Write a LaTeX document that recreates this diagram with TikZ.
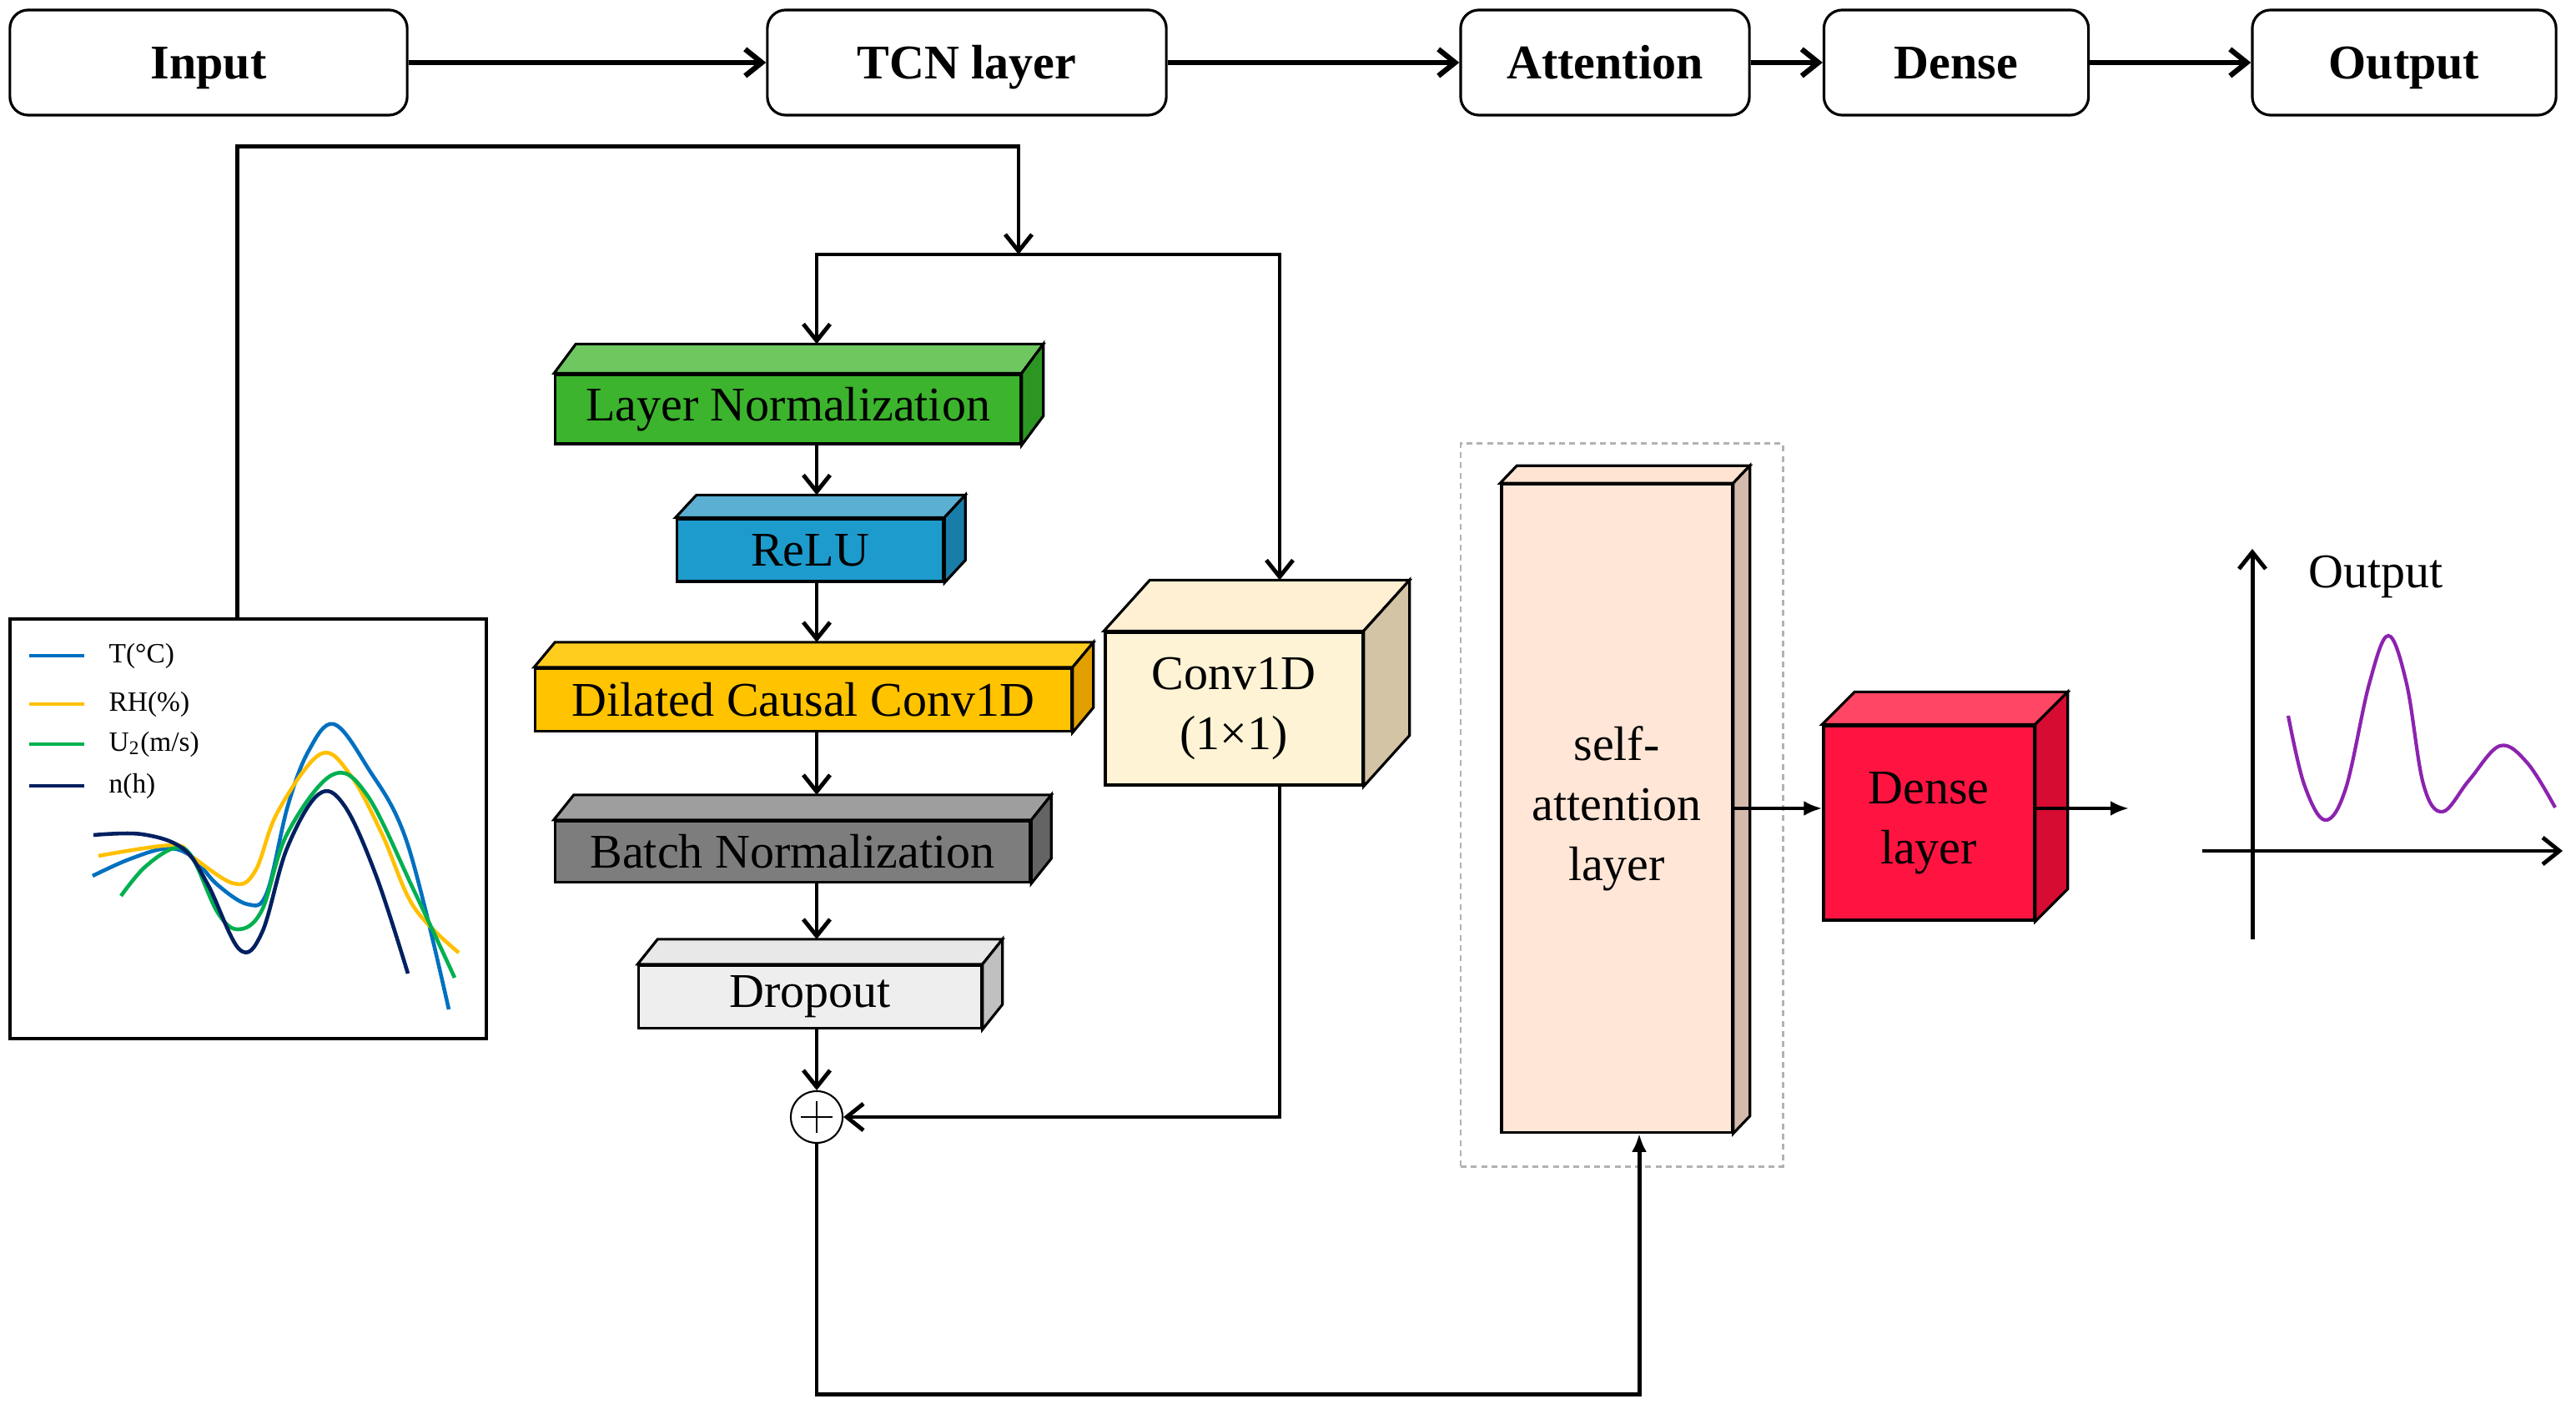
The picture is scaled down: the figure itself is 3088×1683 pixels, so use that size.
\documentclass[tikz,border=0pt]{standalone}
\usepackage{fontspec}
\setmainfont{Liberation Serif}
\usetikzlibrary{arrows.meta}

\definecolor{lnFront}{RGB}{60,180,45}
\definecolor{lnTop}{RGB}{110,200,95}
\definecolor{lnSide}{RGB}{45,150,35}
\definecolor{reluFront}{RGB}{30,155,205}
\definecolor{reluTop}{RGB}{90,175,210}
\definecolor{reluSide}{RGB}{25,125,170}
\definecolor{dilFront}{RGB}{255,195,0}
\definecolor{dilTop}{RGB}{255,205,30}
\definecolor{dilSide}{RGB}{225,160,0}
\definecolor{bnFront}{RGB}{125,125,125}
\definecolor{bnTop}{RGB}{158,158,158}
\definecolor{bnSide}{RGB}{100,100,100}
\definecolor{dropFront}{RGB}{238,238,238}
\definecolor{dropTop}{RGB}{232,232,232}
\definecolor{dropSide}{RGB}{192,192,192}
\definecolor{convFront}{RGB}{255,243,213}
\definecolor{convTop}{RGB}{255,240,212}
\definecolor{convSide}{RGB}{212,196,166}
\definecolor{saFront}{RGB}{255,230,215}
\definecolor{saTop}{RGB}{255,228,210}
\definecolor{saSide}{RGB}{212,186,172}
\definecolor{denseFront}{RGB}{255,20,65}
\definecolor{denseTop}{RGB}{255,70,100}
\definecolor{denseSide}{RGB}{215,12,50}
\definecolor{tempBlue}{RGB}{0,112,192}
\definecolor{rhYellow}{RGB}{255,192,0}
\definecolor{windGreen}{RGB}{0,176,80}
\definecolor{sunNavy}{RGB}{0,32,96}
\definecolor{outPurple}{RGB}{140,35,175}

% front face as a node, top and side faces drawn from its anchors
\newcommand{\slab}[8]{%
  \node[slabface, fill=#7Front, minimum width=#3, minimum height=#4] (#1) at #2 {#8};
  \draw[slabedge, fill=#7Top] (#1.north west) -- ++(#5,-#6) -- ([shift={(#5,-#6)}]#1.north east) -- (#1.north east) -- cycle;
  \draw[slabedge, fill=#7Side] (#1.north east) -- ([shift={(#5,-#6)}]#1.north east) -- ([shift={(#5,-#6)}]#1.south east) -- (#1.south east) -- cycle;
  \coordinate (#1-back) at ([shift={(#5,-#6)}]#1.north);
}

\begin{document}
\begin{tikzpicture}[x=0.01cm, y=-0.01cm,
  topbox/.style={draw, line width=0.9pt, rounded corners=2.2mm, minimum height=12.6mm, inner sep=0pt, text height=11pt, text depth=0pt, font=\fontsize{16.5}{20}\selectfont\bfseries},
  slabface/.style={draw, line width=0.9pt, inner sep=0pt, align=center, font=\fontsize{16.5}{20.5}\selectfont},
  slabedge/.style={line width=0.9pt},
  flow/.style={line width=1.8pt, ->},
  link/.style={line width=1.4pt, ->},
  fine/.style={line width=1.2pt, -{Latex[length=2.2mm,width=1.8mm]}},
  dashbox/.style={draw=gray!60, dash pattern=on 2pt off 1.5pt, line width=0.8pt},
  legend/.style={font=\fontsize{9.5}{11}\selectfont, inner sep=0pt},
  >={Straight Barb[length=2mm,width=3.2mm]}]
  \useasboundingbox (0,0) rectangle (3088,1683);

  % top row
  \node[topbox, minimum width=47.6mm] (input) at (250,75) {Input};
  \node[topbox, minimum width=47.8mm] (tcn) at (1159,75) {TCN layer};
  \node[topbox, minimum width=34.6mm] (attn) at (1924,75) {Attention};
  \node[topbox, minimum width=31.7mm] (dns) at (2345,75) {Dense};
  \node[topbox, minimum width=36.4mm] (outp) at (2882,75) {Output};
  \draw[flow] (input) -- (tcn);
  \draw[flow] (tcn) -- (attn);
  \draw[flow] (attn) -- (dns);
  \draw[flow] (dns) -- (outp);

  % input chart
  \node[draw, line width=1pt, minimum width=57.1mm, minimum height=50.3mm] (inchart) at (297.5,993.5) {};
  \foreach \y/\col/\lab [count=\i] in {786/tempBlue/{T(°C)}, 844/rhYellow/{RH(\%)}, 892/windGreen/{U\textsubscript{2}(m/s)}, 942/sunNavy/{n(h)}} {
    \draw[\col, line width=1.3pt] (35,\y) -- (101,\y);
    \node[legend, anchor=west] (leg\i) at (130,\y) {\lab};
  }
  \draw[tempBlue, line width=1.3pt] plot[smooth, tension=0.6] coordinates {(111,1050) (155,1030) (200,1017) (230,1027) (260,1060) (297,1084) (320,1070) (345,966) (370,900) (400,868) (440,919) (488,1010) (538,1210)};
  \draw[rhYellow, line width=1.3pt] plot[smooth, tension=0.6] coordinates {(118,1026) (208,1013) (230,1027) (280,1059) (306,1044) (333,973) (384,904) (420,929) (458,1000) (496,1087) (550,1142)};
  \draw[windGreen, line width=1.3pt] plot[smooth, tension=0.6] coordinates {(145,1074) (173,1040) (208,1017) (230,1027) (261,1094) (286,1114) (314,1091) (344,1000) (398,929) (440,953) (496,1067) (545,1172)};
  \draw[sunNavy, line width=1.3pt] plot[smooth, tension=0.6] coordinates {(112,1001) (170,1000) (219,1017) (249,1060) (287,1138) (314,1118) (344,1017) (382,952) (413,966) (451,1050) (489,1167)};

  % TCN residual block
  \slab{ln}{(944.5,490.5)}{55.7mm}{8.3mm}{26}{35}{ln}{Layer Normalization}
  \slab{relu}{(971,659.5)}{31.9mm}{7.5mm}{25}{27}{relu}{ReLU}
  \slab{dil}{(963,839)}{64.2mm}{7.5mm}{25}{30}{dil}{Dilated Causal Conv1D}
  \slab{bn}{(950,1021)}{56.9mm}{7.3mm}{24}{30}{bn}{Batch Normalization}
  \slab{drop}{(971,1195)}{41mm}{7.5mm}{24}{30}{drop}{Dropout}
  \slab{conv}{(1479,849.5)}{30.8mm}{18.3mm}{55}{61}{conv}{Conv1D\\(1×1)}
  \node[draw, circle, line width=0.6pt, minimum size=6.2mm, inner sep=0pt, fill=white] (plus) at (979,1339) {};
  \draw[line width=0.5pt] ([xshift=-1.9mm]plus.center) -- ([xshift=1.9mm]plus.center);
  \draw[line width=0.5pt] ([yshift=-1.9mm]plus.center) -- ([yshift=1.9mm]plus.center);

  % attention and dense
  \node[dashbox, minimum width=38.6mm, minimum height=86.6mm] (saframe) at (1944,965) {};
  \slab{sa}{(1938,969)}{27.6mm}{77.6mm}{20}{21}{sa}{self-\\attention\\layer}
  \slab{dense}{(2312,986.5)}{25.2mm}{23.3mm}{39}{39}{dense}{Dense\\layer}

  % connectors
  \coordinate (split) at (1221,305);
  \coordinate (denseout) at (2552,969);
  \draw[link] ([xshift=-1.3mm]inchart.north) -- ++(0,-565) -| (split);
  \draw[link] (split) -| (plus |- ln-back);
  \draw[link] (split) -| (conv-back);
  \draw[link] (ln.south -| plus) -- (relu-back -| plus);
  \draw[link] (relu.south -| plus) -- (dil-back -| plus);
  \draw[link] (dil.south -| plus) -- (bn-back -| plus);
  \draw[link] (bn.south -| plus) -- (drop-back -| plus);
  \draw[link] (drop.south -| plus) -- (plus);
  \draw[link] (conv.south -| conv-back) |- (plus);
  \draw[fine, line width=1.4pt] (plus.south) -- ++(0,300) -| ([xshift=2.7mm]sa.south);
  \draw[fine] (sa.east) -- (sa.east -| dense.west);
  \draw[fine] (denseout -| dense.east) -- (denseout);

  % output chart
  \draw[line width=1.4pt, ->] (2700,1126) -- (2700,658);
  \draw[line width=1.4pt, ->] (2640,1020) -- (3072,1020);
  \draw[outPurple, line width=1.2pt] plot[smooth, tension=0.6] coordinates {(2743,858) (2762,940) (2787,983) (2812,945) (2840,820) (2863,762) (2885,820) (2905,940) (2928,973) (2960,935) (2997,894) (3030,915) (3063,968)};
  \node[font=\fontsize{16.5}{20}\selectfont] (outlabel) at (2848,691) {Output};
\end{tikzpicture}
\end{document}
